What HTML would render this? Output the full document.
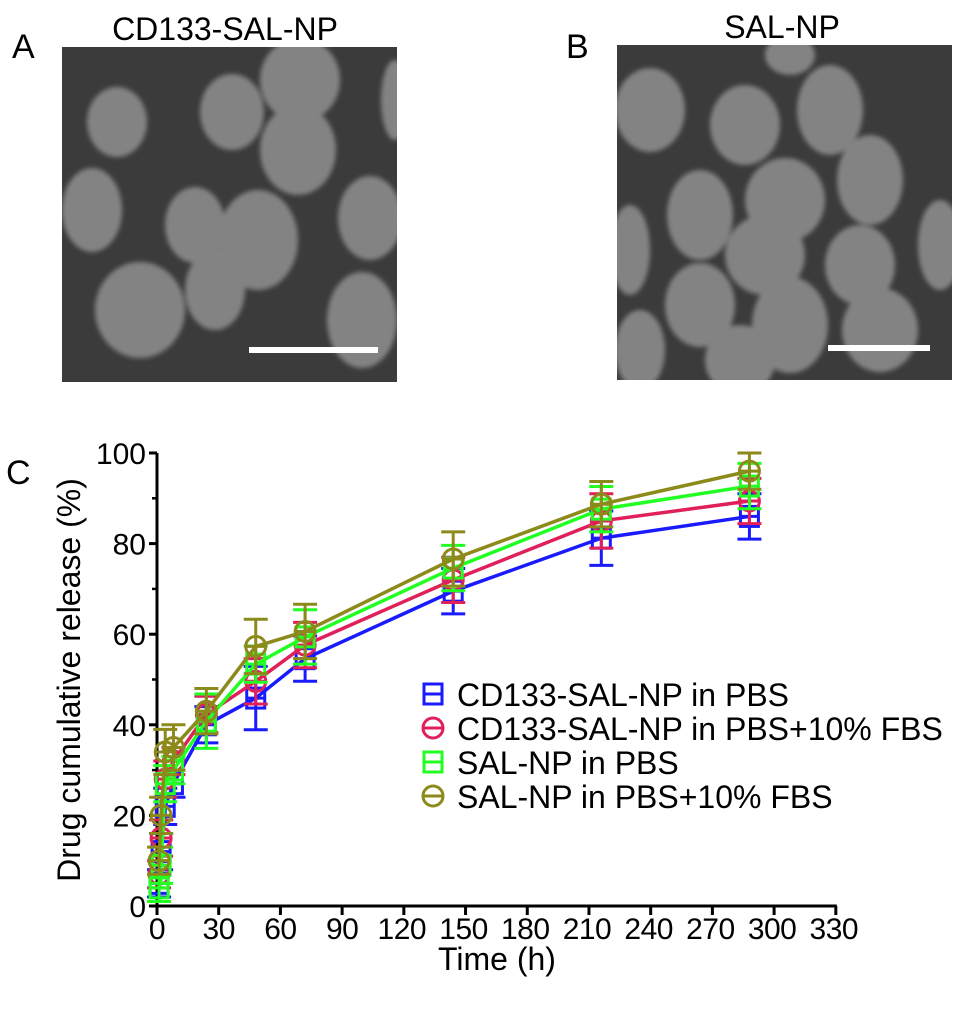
<!DOCTYPE html>
<html><head><meta charset="utf-8"><style>
body{margin:0;background:#fff;width:969px;height:1015px;overflow:hidden}
svg{display:block;font-family:"Liberation Sans",Arial,sans-serif}
</style></head><body>
<svg id="fig" width="969" height="1015" viewBox="0 0 969 1015">
<defs><filter id="bl" x="-20%" y="-20%" width="140%" height="140%"><feGaussianBlur stdDeviation="2.5"/></filter>
<clipPath id="ca"><rect x="62" y="47" width="335" height="335"/></clipPath>
<clipPath id="cb"><rect x="617" y="45" width="335" height="335"/></clipPath></defs>
<text x="12" y="58" font-size="34">A</text>
<text x="225" y="40" font-size="32" text-anchor="middle">CD133-SAL-NP</text>
<text x="566" y="58" font-size="34">B</text>
<text x="782" y="38" font-size="32" text-anchor="middle">SAL-NP</text>
<g clip-path="url(#ca)">
<rect x="62" y="47" width="335" height="335" fill="#3b3b3b"/>
<g fill="#838383" filter="url(#bl)">
<ellipse cx="117" cy="122" rx="30" ry="35"/><ellipse cx="232" cy="112" rx="32" ry="38"/>
<ellipse cx="300" cy="80" rx="40" ry="42"/><ellipse cx="298" cy="150" rx="38" ry="45"/>
<ellipse cx="395" cy="100" rx="14" ry="40"/><ellipse cx="92" cy="210" rx="30" ry="42"/>
<ellipse cx="195" cy="225" rx="30" ry="38"/><ellipse cx="258" cy="240" rx="40" ry="50"/>
<ellipse cx="215" cy="290" rx="30" ry="40"/><ellipse cx="140" cy="310" rx="45" ry="48"/>
<ellipse cx="370" cy="218" rx="32" ry="42"/><ellipse cx="362" cy="320" rx="35" ry="48"/>
</g>
<rect x="249" y="347" width="129" height="6" fill="#fff"/>
</g>
<g clip-path="url(#cb)">
<rect x="617" y="45" width="335" height="335" fill="#3b3b3b"/>
<g fill="#838383" filter="url(#bl)">
<ellipse cx="650" cy="110" rx="35" ry="42"/><ellipse cx="790" cy="55" rx="25" ry="20"/>
<ellipse cx="745" cy="125" rx="35" ry="40"/><ellipse cx="830" cy="110" rx="33" ry="45"/>
<ellipse cx="785" cy="200" rx="40" ry="42"/><ellipse cx="870" cy="180" rx="33" ry="45"/>
<ellipse cx="700" cy="215" rx="33" ry="45"/><ellipse cx="630" cy="250" rx="20" ry="45"/>
<ellipse cx="765" cy="255" rx="40" ry="40"/><ellipse cx="860" cy="265" rx="35" ry="40"/>
<ellipse cx="940" cy="245" rx="22" ry="45"/><ellipse cx="700" cy="305" rx="35" ry="42"/>
<ellipse cx="790" cy="325" rx="38" ry="48"/><ellipse cx="880" cy="330" rx="38" ry="42"/>
<ellipse cx="640" cy="350" rx="25" ry="40"/><ellipse cx="740" cy="360" rx="35" ry="35"/>
</g>
<rect x="828" y="345" width="102" height="6" fill="#fff"/>
</g>
<text x="6" y="484" font-size="34">C</text>
<g id="chart"></g>
</svg>
<script>
const times=[1,2,4,8,24,48,72,144,216,288];
const seriesNames=["CD133-SAL-NP in PBS","CD133-SAL-NP in PBS+10% FBS","SAL-NP in PBS","SAL-NP in PBS+10% FBS"];
const blueVals=[5,12,22,27,40,45.9,54.6,69.5,81.2,86];
const redVals=[7,15,28,32,42.3,49.6,57.6,72,85,89.4];
const greenVals=[4,9,27,30,40.8,53.4,59.4,74.6,87.6,92.7];
const oliveVals=[10,20,34,35,43,57.3,60.6,76.6,88.7,96];
const blueErr=[3,4,4,3,4,7,5,5,6,5];
const redErr=[3,4,4,3,4,5,5,5,6,5];
const greenErr=[3,4,4,3,6,4,6,5,5,5];
const oliveErr=[3,4,5,5,5,6,6,6,5,4];
const xTicks=[0,30,60,90,120,150,180,210,240,270,300,330];
const yTicks=[0,20,40,60,80,100];
const NS="http://www.w3.org/2000/svg";
const g=document.getElementById('chart');
const X0=157,XS=2.057,Y0=906,YS=4.53;
const xs=v=>X0+v*XS, ys=v=>Y0-v*YS;
function el(t,a,p){const e=document.createElementNS(NS,t);for(const k in a)e.setAttribute(k,a[k]);(p||g).appendChild(e);return e;}
let ax=el('line',{x1:X0,y1:ys(100),x2:X0,y2:Y0+2,stroke:'#000','stroke-width':3});


let bx=el('line',{x1:X0-2,y1:Y0,x2:xs(330)+1,y2:Y0,stroke:'#000','stroke-width':3});


yTicks.forEach(v=>{
 el('line',{x1:X0-8,y1:ys(v),x2:X0,y2:ys(v),stroke:'#000','stroke-width':3});
 const t=el('text',{x:X0-11,y:ys(v)+11,'font-size':30,'text-anchor':'end'});t.textContent=v;
 
 
 if(v<100) el('line',{x1:X0-5,y1:ys(v+10),x2:X0,y2:ys(v+10),stroke:'#000','stroke-width':2.5});
});
xTicks.forEach(v=>{
 el('line',{x1:xs(v),y1:Y0,x2:xs(v),y2:Y0+9,stroke:'#000','stroke-width':3});
 const t=el('text',{x:xs(v)+(v>=120?-2:0),y:Y0+33,'font-size':30,'text-anchor':'middle','letter-spacing':'-0.5'});t.textContent=v;
 
 
});
let yt=el('text',{x:0,y:0,'font-size':32,'text-anchor':'middle',transform:'translate(80,680) rotate(-90)'});yt.textContent='Drug cumulative release (%)';


let xt=el('text',{x:497,y:970,'font-size':32,'text-anchor':'middle'});xt.textContent='Time (h)';


const S=[[blueVals,blueErr,'#1a1aff','sq'],[redVals,redErr,'#e0205a','ci'],[greenVals,greenErr,'#22ff22','sq'],[oliveVals,oliveErr,'#8c8a1a','ci']];
function marker(p,x,y,c,shape){
 if(shape==='sq') el('rect',{x:x-9,y:y-10,width:18,height:20,fill:'none',stroke:c,'stroke-width':3},p);
 else el('circle',{cx:x,cy:y,r:10,fill:'none',stroke:c,'stroke-width':3},p);
 el('line',{x1:x-9,y1:y,x2:x+9,y2:y,stroke:c,'stroke-width':3},p);
}
S.forEach((s,i)=>{
 const sg=el('g',{});
 
 
 const [vals,err,c,shape]=s;
 el('polyline',{points:times.map((t,j)=>xs(t)+','+ys(vals[j])).join(' '),fill:'none',stroke:c,'stroke-width':3.5},sg);
 times.forEach((t,j)=>{
  const x=xs(t),y1=ys(vals[j]+err[j]),y2=ys(vals[j]-err[j]);
  el('line',{x1:x,y1:y1,x2:x,y2:y2,stroke:c,'stroke-width':3},sg);
  el('line',{x1:x-12,y1:y1,x2:x+12,y2:y1,stroke:c,'stroke-width':3},sg);
  el('line',{x1:x-12,y1:y2,x2:x+12,y2:y2,stroke:c,'stroke-width':3},sg);
  marker(sg,x,ys(vals[j]),c,shape);
 });
});
seriesNames.forEach((n,i)=>{
 const lg=el('g',{});
 
 
 const y=694+i*34;
 marker(lg,433,y,S[i][2],S[i][3]);
 const t=el('text',{x:457,y:y+12,'font-size':32},lg);t.textContent=n;
});
</script>
</body></html>
